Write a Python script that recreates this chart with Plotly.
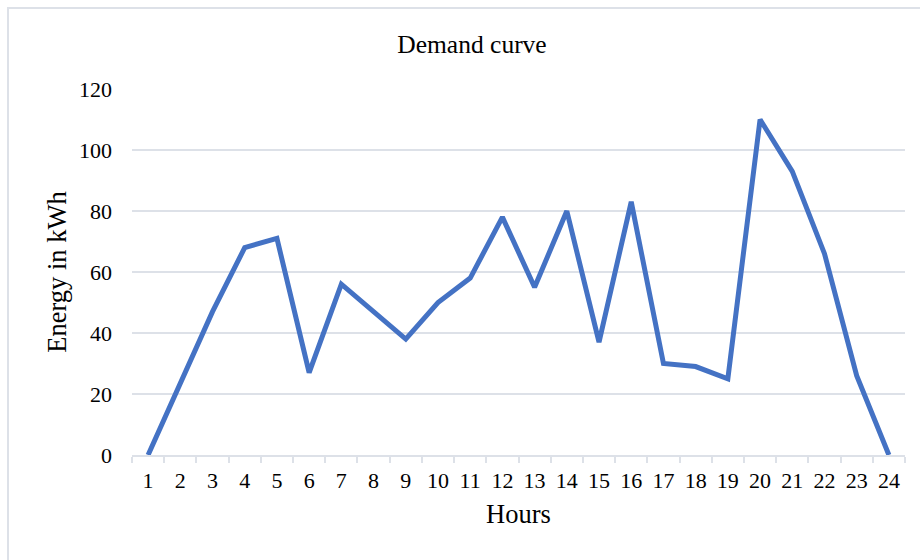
import plotly.graph_objects as go

hours = [str(h) for h in range(1, 25)]
energy = [0, 24, 47, 68, 71, 27, 56, 47, 38, 50, 58, 78, 55, 80, 37, 83, 30, 29, 25, 110, 93, 66, 26, 0]
y_ticks = [0, 20, 40, 60, 80, 100, 120]

FONT = "Liberation Serif, Times New Roman, serif"
GRID = "#dde1e8"

fig = go.Figure()
fig.add_trace(go.Scatter(
    x=hours, y=energy, mode="lines",
    line=dict(color="#4472C4", width=5),
    hoverinfo="x+y", showlegend=False,
))

L, R, T, B = 132, 15, 89, 105
plot_w = 920 - L - R
plot_h = 560 - T - B

fig.update_layout(
    width=920, height=560,
    margin=dict(l=L, r=R, t=T, b=B),
    paper_bgcolor="white", plot_bgcolor="white",
    font=dict(family=FONT, color="#000000", size=22),
    title=dict(text="Demand curve", x=472 / 920, xref="container", xanchor="center",
               y=1 - 44 / 560, yref="container", yanchor="middle",
               font=dict(family=FONT, size=25.5, color="#000000")),
    xaxis=dict(
        type="category", tickson="boundaries", showgrid=False,
        showline=True, linecolor=GRID, linewidth=2,
        ticks="outside", ticklen=6, tickcolor=GRID, tickwidth=2,
        ticklabelstandoff=5,
        tickfont=dict(family=FONT, size=22),
        title=dict(text="Hours", font=dict(family=FONT, size=26.5), standoff=12),
        range=[-0.5, 23.5], fixedrange=True,
    ),
    yaxis=dict(
        range=[0, 120], tickvals=y_ticks, showgrid=True, gridcolor=GRID, gridwidth=2,
        zeroline=False, showline=False, ticks="", ticklabelstandoff=19,
        tickfont=dict(family=FONT, size=22),
        title=dict(text="Energy in kWh", font=dict(family=FONT, size=26.5), standoff=4),
        fixedrange=True,
    ),
)

# chart area border (left and top visible)
x0 = (8 - L) / plot_w
y1 = (560 - B - 8) / plot_h
fig.add_shape(type="rect", xref="paper", yref="paper",
              x0=x0, x1=(930 - L) / plot_w, y0=(560 - B - 570) / plot_h, y1=y1,
              line=dict(color=GRID, width=2), layer="below")

fig.write_html("out.html", config={"displayModeBar": False},
               post_script="document.body.style.margin='0';")
